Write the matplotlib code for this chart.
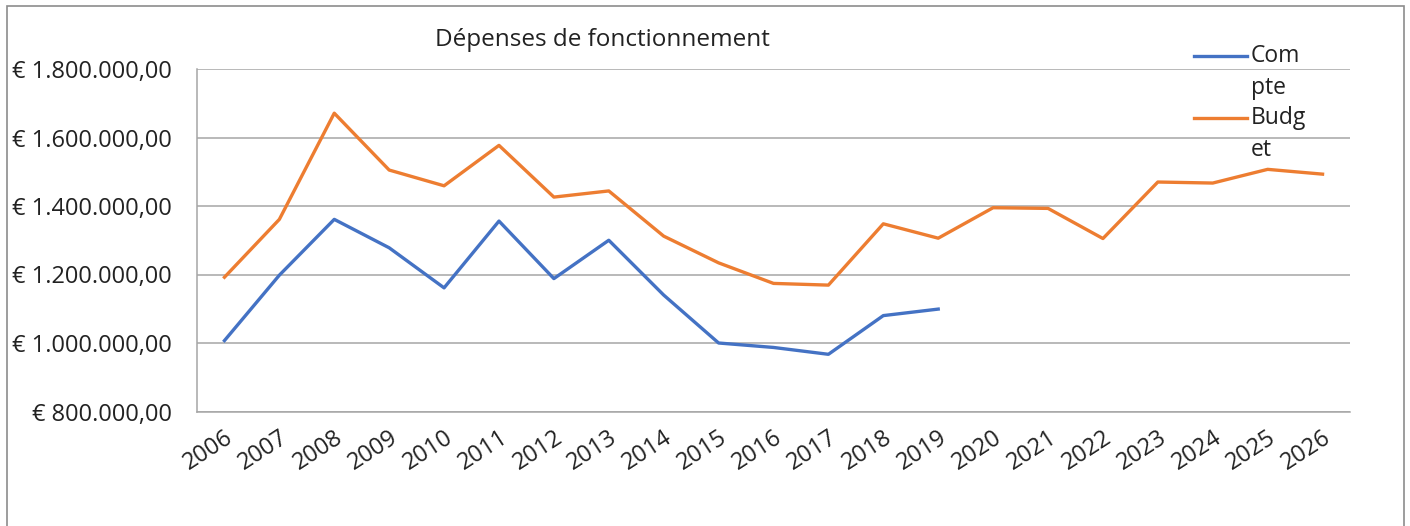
import numpy as np
import matplotlib
matplotlib.use("Agg")
import matplotlib.pyplot as plt
from matplotlib.ticker import FuncFormatter, MultipleLocator
from matplotlib.lines import Line2D
from matplotlib.patches import Rectangle

plt.rcParams['font.family'] = ['Open Sans', 'DejaVu Sans']

years = [str(y) for y in range(2006, 2027)]
compte = [1007000, 1198000, 1361000, 1278000, 1161000, 1356000, 1188000,
          1300000, 1140000, 1000000, 987000, 967000, 1080000, 1099000]
budget = [1192000, 1361000, 1671000, 1505000, 1459000, 1577000, 1426000,
          1444000, 1312000, 1234000, 1174000, 1169000, 1348000, 1306000,
          1395000, 1393000, 1305000, 1470000, 1467000, 1507000, 1493000]
title = "Dépenses de fonctionnement"
# legend labels are wrapped in the original
labels = [["Com", "pte"], ["Budg", "et"]]
colors = ["#4472C4", "#ED7D31"]


def euro(v, pos):
	s = "{:,.2f}".format(v)
	s = s.replace(",", " ").replace(".", ",").replace(" ", ".")
	return "€ " + s


fig = plt.figure(figsize=(14.1, 5.26), dpi=100)
W, H = 1410.0, 526.0
ax = fig.add_axes([197 / W, 1 - 411.5 / H, (1350 - 197) / W, (411.5 - 69) / H])

x = np.arange(len(years))
ax.plot(x[:len(compte)], compte, color=colors[0], lw=2.4, solid_joinstyle='round')
ax.plot(x, budget, color=colors[1], lw=2.4, solid_joinstyle='round')

ax.set_xlim(-0.5, len(years) - 0.5)
ax.set_ylim(800000, 1800000)
ax.yaxis.set_major_locator(MultipleLocator(200000))
ax.yaxis.set_major_formatter(FuncFormatter(euro))
ax.set_xticks(x)
ax.set_xticklabels(years, rotation=33, ha='right', rotation_mode='anchor')
ax.tick_params(axis='y', length=0, pad=18, labelsize=17, labelcolor='#222222')
ax.tick_params(axis='x', length=0, pad=10, labelsize=17, labelcolor='#222222')

ax.grid(axis='y', color='#a6a6a6', lw=1.1)
ax.set_axisbelow(True)
for s in ['top', 'right']:
	ax.spines[s].set_visible(False)
ax.spines['left'].set_color('#a6a6a6')
ax.spines['bottom'].set_color('#a6a6a6')
ax.spines['left'].set_linewidth(1.1)
ax.spines['bottom'].set_linewidth(1.1)

fig.text(602 / W, 1 - 40 / H, title, ha='center', va='center', fontsize=17.5, color='#222222')

for i, (lab, c) in enumerate(zip(labels, colors)):
	y0 = 56 + i * 62
	yy = 1 - y0 / H
	fig.add_artist(Line2D([1194 / W, 1247 / W], [yy, yy], color=c, lw=2.4, transform=fig.transFigure))
	for j, part in enumerate(lab):
		fig.text(1251 / W, 1 - (y0 + j * 32) / H, part, ha='left', va='center',
				 fontsize=16.5, color='#222222')

fig.add_artist(Rectangle((7 / W, -0.1), (1404 - 7) / W, 1.1 - 6 / H, fill=False,
						 edgecolor='#8c8c8c', lw=1.2, transform=fig.transFigure))

plt.savefig("out.png", dpi=100)
